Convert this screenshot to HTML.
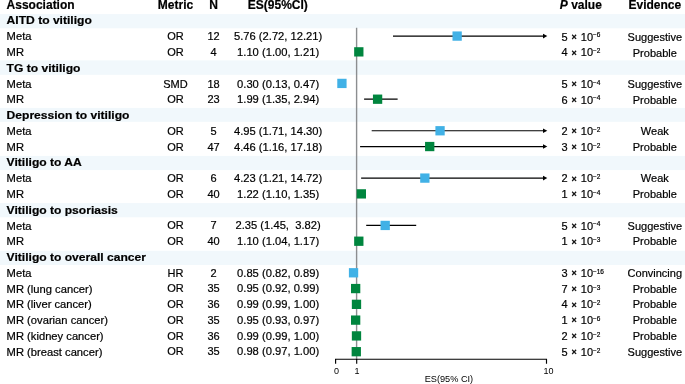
<!DOCTYPE html>
<html lang="en"><head><meta charset="utf-8"><title>Forest plot</title>
<style>html,body{margin:0;padding:0;background:#fff;overflow:hidden}svg{display:block}text{font-family:"Liberation Sans",Arial,Helvetica,sans-serif;fill:#000;stroke:#000;stroke-width:0.2px}</style></head><body>
<svg width="685" height="384" viewBox="0 0 685 384">
<rect width="685" height="384" fill="#fff"/>
<rect x="0" y="14.10" width="685" height="14.20" fill="#f1f8fc"/>
<rect x="0" y="60.40" width="685" height="14.40" fill="#f1f8fc"/>
<rect x="0" y="107.90" width="685" height="13.90" fill="#f1f8fc"/>
<rect x="0" y="155.90" width="685" height="14.20" fill="#f1f8fc"/>
<rect x="0" y="203.10" width="685" height="14.20" fill="#f1f8fc"/>
<rect x="0" y="250.80" width="685" height="14.20" fill="#f1f8fc"/>
<text transform="translate(6.60 8.65) scale(1 1)" font-size="12" font-weight="bold">Association</text>
<text transform="translate(175.50 8.65) scale(1 1)" font-size="12" text-anchor="middle" font-weight="bold">Metric</text>
<text transform="translate(213.50 8.65) scale(1 1)" font-size="12" text-anchor="middle" font-weight="bold">N</text>
<text transform="translate(277.80 8.65) scale(1 1)" font-size="12" text-anchor="middle" font-weight="bold">ES(95%CI)</text>
<text transform="translate(559.80 8.65) scale(1 1)" font-size="12" font-weight="bold"><tspan font-style="italic">P</tspan> value</text>
<text transform="translate(654.80 8.65) scale(1 1)" font-size="12" text-anchor="middle" font-weight="bold">Evidence</text>
<line x1="356.6" y1="27.8" x2="356.6" y2="359.2" stroke="#8c8e90" stroke-width="1.4"/>
<text transform="translate(6.60 24.20) scale(1.07 1)" font-size="11.3" font-weight="bold">AITD to vitiligo</text>
<text transform="translate(6.60 40.30) scale(1.077 1)" font-size="10.4">Meta</text>
<text transform="translate(175.50 40.46) scale(1 1)" font-size="11" text-anchor="middle">OR</text>
<text transform="translate(213.50 40.46) scale(1 1)" font-size="11" text-anchor="middle">12</text>
<text transform="translate(278.10 40.30) scale(1 1)" font-size="11.2" text-anchor="middle" xml:space="preserve">5.76 (2.72, 12.21)</text>
<text transform="translate(561.50 40.61) scale(1 1)" font-size="11">5 <tspan font-size="9" font-weight="bold" dx="0.9" dy="-0.8">×</tspan><tspan dx="0.9" dy="0.8"> 10</tspan><tspan font-size="6.5" dy="-3.2" dx="-0.1">−6</tspan></text>
<text transform="translate(654.80 40.79) scale(1 1)" font-size="11" text-anchor="middle">Suggestive</text>
<line x1="392.99" y1="36.08" x2="544.50" y2="36.08" stroke="#000" stroke-width="1.2"/>
<path d="M547.30 36.08 l-4.3 -2.3 v4.6 z" fill="#000"/>
<rect x="452.49" y="31.43" width="9.3" height="9.3" fill="#41b1e6"/>
<text transform="translate(6.60 56.07) scale(1.077 1)" font-size="10.4">MR</text>
<text transform="translate(175.50 56.21) scale(1 1)" font-size="11" text-anchor="middle">OR</text>
<text transform="translate(213.50 56.21) scale(1 1)" font-size="11" text-anchor="middle">4</text>
<text transform="translate(278.10 56.05) scale(1 1)" font-size="11.2" text-anchor="middle" xml:space="preserve">1.10 (1.00, 1.21)</text>
<text transform="translate(561.50 56.36) scale(1 1)" font-size="11">4 <tspan font-size="9" font-weight="bold" dx="0.9" dy="-0.8">×</tspan><tspan dx="0.9" dy="0.8"> 10</tspan><tspan font-size="6.5" dy="-3.2" dx="-0.1">−2</tspan></text>
<text transform="translate(654.80 56.53) scale(1 1)" font-size="11" text-anchor="middle">Probable</text>
<rect x="354.16" y="47.21" width="9.3" height="9.3" fill="#00853e"/>
<text transform="translate(6.60 71.60) scale(1.07 1)" font-size="11.3" font-weight="bold">TG to vitiligo</text>
<text transform="translate(6.60 87.62) scale(1.077 1)" font-size="10.4">Meta</text>
<text transform="translate(175.50 87.70) scale(1 1)" font-size="11" text-anchor="middle">SMD</text>
<text transform="translate(213.50 87.70) scale(1 1)" font-size="11" text-anchor="middle">18</text>
<text transform="translate(278.10 87.55) scale(1 1)" font-size="11.2" text-anchor="middle" xml:space="preserve">0.30 (0.13, 0.47)</text>
<text transform="translate(561.50 87.87) scale(1 1)" font-size="11">5 <tspan font-size="9" font-weight="bold" dx="0.9" dy="-0.8">×</tspan><tspan dx="0.9" dy="0.8"> 10</tspan><tspan font-size="6.5" dy="-3.2" dx="-0.1">−4</tspan></text>
<text transform="translate(654.80 88.01) scale(1 1)" font-size="11" text-anchor="middle">Suggestive</text>
<rect x="337.28" y="78.77" width="9.3" height="9.3" fill="#41b1e6"/>
<text transform="translate(6.60 103.39) scale(1.077 1)" font-size="10.4">MR</text>
<text transform="translate(175.50 103.44) scale(1 1)" font-size="11" text-anchor="middle">OR</text>
<text transform="translate(213.50 103.44) scale(1 1)" font-size="11" text-anchor="middle">23</text>
<text transform="translate(278.10 103.30) scale(1 1)" font-size="11.2" text-anchor="middle" xml:space="preserve">1.99 (1.35, 2.94)</text>
<text transform="translate(561.50 103.62) scale(1 1)" font-size="11">6 <tspan font-size="9" font-weight="bold" dx="0.9" dy="-0.8">×</tspan><tspan dx="0.9" dy="0.8"> 10</tspan><tspan font-size="6.5" dy="-3.2" dx="-0.1">−4</tspan></text>
<text transform="translate(654.80 103.75) scale(1 1)" font-size="11" text-anchor="middle">Probable</text>
<line x1="364.09" y1="99.20" x2="397.63" y2="99.20" stroke="#000" stroke-width="1.2"/>
<rect x="372.94" y="94.55" width="9.3" height="9.3" fill="#00853e"/>
<text transform="translate(6.60 119.00) scale(1.07 1)" font-size="11.3" font-weight="bold">Depression to vitiligo</text>
<text transform="translate(6.60 134.94) scale(1.077 1)" font-size="10.4">Meta</text>
<text transform="translate(175.50 134.94) scale(1 1)" font-size="11" text-anchor="middle">OR</text>
<text transform="translate(213.50 134.94) scale(1 1)" font-size="11" text-anchor="middle">5</text>
<text transform="translate(278.10 134.80) scale(1 1)" font-size="11.2" text-anchor="middle" xml:space="preserve">4.95 (1.71, 14.30)</text>
<text transform="translate(561.50 135.14) scale(1 1)" font-size="11">2 <tspan font-size="9" font-weight="bold" dx="0.9" dy="-0.8">×</tspan><tspan dx="0.9" dy="0.8"> 10</tspan><tspan font-size="6.5" dy="-3.2" dx="-0.1">−2</tspan></text>
<text transform="translate(654.80 135.23) scale(1 1)" font-size="11" text-anchor="middle">Weak</text>
<line x1="371.68" y1="130.76" x2="544.50" y2="130.76" stroke="#000" stroke-width="1.2"/>
<path d="M547.30 130.76 l-4.3 -2.3 v4.6 z" fill="#000"/>
<rect x="435.40" y="126.11" width="9.3" height="9.3" fill="#41b1e6"/>
<text transform="translate(6.60 150.72) scale(1.077 1)" font-size="10.4">MR</text>
<text transform="translate(175.50 150.68) scale(1 1)" font-size="11" text-anchor="middle">OR</text>
<text transform="translate(213.50 150.68) scale(1 1)" font-size="11" text-anchor="middle">47</text>
<text transform="translate(278.10 150.55) scale(1 1)" font-size="11.2" text-anchor="middle" xml:space="preserve">4.46 (1.16, 17.18)</text>
<text transform="translate(561.50 150.89) scale(1 1)" font-size="11">3 <tspan font-size="9" font-weight="bold" dx="0.9" dy="-0.8">×</tspan><tspan dx="0.9" dy="0.8"> 10</tspan><tspan font-size="6.5" dy="-3.2" dx="-0.1">−2</tspan></text>
<text transform="translate(654.80 150.97) scale(1 1)" font-size="11" text-anchor="middle">Probable</text>
<line x1="360.08" y1="146.54" x2="544.50" y2="146.54" stroke="#000" stroke-width="1.2"/>
<path d="M547.30 146.54 l-4.3 -2.3 v4.6 z" fill="#000"/>
<rect x="425.06" y="141.89" width="9.3" height="9.3" fill="#00853e"/>
<text transform="translate(6.60 166.40) scale(1.07 1)" font-size="11.3" font-weight="bold">Vitiligo to AA</text>
<text transform="translate(6.60 182.27) scale(1.077 1)" font-size="10.4">Meta</text>
<text transform="translate(175.50 182.17) scale(1 1)" font-size="11" text-anchor="middle">OR</text>
<text transform="translate(213.50 182.17) scale(1 1)" font-size="11" text-anchor="middle">6</text>
<text transform="translate(278.10 182.05) scale(1 1)" font-size="11.2" text-anchor="middle" xml:space="preserve">4.23 (1.21, 14.72)</text>
<text transform="translate(561.50 182.40) scale(1 1)" font-size="11">2 <tspan font-size="9" font-weight="bold" dx="0.9" dy="-0.8">×</tspan><tspan dx="0.9" dy="0.8"> 10</tspan><tspan font-size="6.5" dy="-3.2" dx="-0.1">−2</tspan></text>
<text transform="translate(654.80 182.45) scale(1 1)" font-size="11" text-anchor="middle">Weak</text>
<line x1="361.13" y1="178.10" x2="544.50" y2="178.10" stroke="#000" stroke-width="1.2"/>
<path d="M547.30 178.10 l-4.3 -2.3 v4.6 z" fill="#000"/>
<rect x="420.20" y="173.45" width="9.3" height="9.3" fill="#41b1e6"/>
<text transform="translate(6.60 198.05) scale(1.077 1)" font-size="10.4">MR</text>
<text transform="translate(175.50 197.91) scale(1 1)" font-size="11" text-anchor="middle">OR</text>
<text transform="translate(213.50 197.91) scale(1 1)" font-size="11" text-anchor="middle">40</text>
<text transform="translate(278.10 197.80) scale(1 1)" font-size="11.2" text-anchor="middle" xml:space="preserve">1.22 (1.10, 1.35)</text>
<text transform="translate(561.50 198.16) scale(1 1)" font-size="11">1 <tspan font-size="9" font-weight="bold" dx="0.9" dy="-0.8">×</tspan><tspan dx="0.9" dy="0.8"> 10</tspan><tspan font-size="6.5" dy="-3.2" dx="-0.1">−4</tspan></text>
<text transform="translate(654.80 198.19) scale(1 1)" font-size="11" text-anchor="middle">Probable</text>
<rect x="356.69" y="189.23" width="9.3" height="9.3" fill="#00853e"/>
<text transform="translate(6.60 213.80) scale(1.07 1)" font-size="11.3" font-weight="bold">Vitiligo to psoriasis</text>
<text transform="translate(6.60 229.60) scale(1.077 1)" font-size="10.4">Meta</text>
<text transform="translate(175.50 229.41) scale(1 1)" font-size="11" text-anchor="middle">OR</text>
<text transform="translate(213.50 229.41) scale(1 1)" font-size="11" text-anchor="middle">7</text>
<text transform="translate(278.10 229.30) scale(1 1)" font-size="11.2" text-anchor="middle" xml:space="preserve">2.35 (1.45,  3.82)</text>
<text transform="translate(561.50 229.66) scale(1 1)" font-size="11">5 <tspan font-size="9" font-weight="bold" dx="0.9" dy="-0.8">×</tspan><tspan dx="0.9" dy="0.8"> 10</tspan><tspan font-size="6.5" dy="-3.2" dx="-0.1">−4</tspan></text>
<text transform="translate(654.80 229.67) scale(1 1)" font-size="11" text-anchor="middle">Suggestive</text>
<line x1="366.20" y1="225.44" x2="416.20" y2="225.44" stroke="#000" stroke-width="1.2"/>
<rect x="380.54" y="220.79" width="9.3" height="9.3" fill="#41b1e6"/>
<text transform="translate(6.60 245.37) scale(1.077 1)" font-size="10.4">MR</text>
<text transform="translate(175.50 245.15) scale(1 1)" font-size="11" text-anchor="middle">OR</text>
<text transform="translate(213.50 245.15) scale(1 1)" font-size="11" text-anchor="middle">40</text>
<text transform="translate(278.10 245.05) scale(1 1)" font-size="11.2" text-anchor="middle" xml:space="preserve">1.10 (1.04, 1.17)</text>
<text transform="translate(561.50 245.42) scale(1 1)" font-size="11">1 <tspan font-size="9" font-weight="bold" dx="0.9" dy="-0.8">×</tspan><tspan dx="0.9" dy="0.8"> 10</tspan><tspan font-size="6.5" dy="-3.2" dx="-0.1">−3</tspan></text>
<text transform="translate(654.80 245.41) scale(1 1)" font-size="11" text-anchor="middle">Probable</text>
<rect x="354.16" y="236.57" width="9.3" height="9.3" fill="#00853e"/>
<text transform="translate(6.60 261.20) scale(1.07 1)" font-size="11.3" font-weight="bold">Vitiligo to overall cancer</text>
<text transform="translate(6.60 276.92) scale(1.077 1)" font-size="10.4">Meta</text>
<text transform="translate(175.50 276.64) scale(1 1)" font-size="11" text-anchor="middle">HR</text>
<text transform="translate(213.50 276.64) scale(1 1)" font-size="11" text-anchor="middle">2</text>
<text transform="translate(278.10 276.55) scale(1 1)" font-size="11.2" text-anchor="middle" xml:space="preserve">0.85 (0.82, 0.89)</text>
<text transform="translate(561.50 276.93) scale(1 1)" font-size="11">3 <tspan font-size="9" font-weight="bold" dx="0.9" dy="-0.8">×</tspan><tspan dx="0.9" dy="0.8"> 10</tspan><tspan font-size="6.5" dy="-3.2" dx="-0.1">−16</tspan></text>
<text transform="translate(654.80 276.89) scale(1 1)" font-size="11" text-anchor="middle">Convincing</text>
<rect x="348.89" y="268.13" width="9.3" height="9.3" fill="#41b1e6"/>
<text transform="translate(6.60 292.69) scale(1.077 1)" font-size="10.4">MR (lung cancer)</text>
<text transform="translate(175.50 292.38) scale(1 1)" font-size="11" text-anchor="middle">OR</text>
<text transform="translate(213.50 292.38) scale(1 1)" font-size="11" text-anchor="middle">35</text>
<text transform="translate(278.10 292.30) scale(1 1)" font-size="11.2" text-anchor="middle" xml:space="preserve">0.95 (0.92, 0.99)</text>
<text transform="translate(561.50 292.69) scale(1 1)" font-size="11">7 <tspan font-size="9" font-weight="bold" dx="0.9" dy="-0.8">×</tspan><tspan dx="0.9" dy="0.8"> 10</tspan><tspan font-size="6.5" dy="-3.2" dx="-0.1">−3</tspan></text>
<text transform="translate(654.80 292.63) scale(1 1)" font-size="11" text-anchor="middle">Probable</text>
<rect x="351.00" y="283.91" width="9.3" height="9.3" fill="#00853e"/>
<text transform="translate(6.60 308.47) scale(1.077 1)" font-size="10.4">MR (liver cancer)</text>
<text transform="translate(175.50 308.13) scale(1 1)" font-size="11" text-anchor="middle">OR</text>
<text transform="translate(213.50 308.13) scale(1 1)" font-size="11" text-anchor="middle">36</text>
<text transform="translate(278.10 308.05) scale(1 1)" font-size="11.2" text-anchor="middle" xml:space="preserve">0.99 (0.99, 1.00)</text>
<text transform="translate(561.50 308.44) scale(1 1)" font-size="11">4 <tspan font-size="9" font-weight="bold" dx="0.9" dy="-0.8">×</tspan><tspan dx="0.9" dy="0.8"> 10</tspan><tspan font-size="6.5" dy="-3.2" dx="-0.1">−2</tspan></text>
<text transform="translate(654.80 308.37) scale(1 1)" font-size="11" text-anchor="middle">Probable</text>
<rect x="351.84" y="299.69" width="9.3" height="9.3" fill="#00853e"/>
<text transform="translate(6.60 324.25) scale(1.077 1)" font-size="10.4">MR (ovarian cancer)</text>
<text transform="translate(175.50 323.88) scale(1 1)" font-size="11" text-anchor="middle">OR</text>
<text transform="translate(213.50 323.88) scale(1 1)" font-size="11" text-anchor="middle">35</text>
<text transform="translate(278.10 323.80) scale(1 1)" font-size="11.2" text-anchor="middle" xml:space="preserve">0.95 (0.93, 0.97)</text>
<text transform="translate(561.50 324.20) scale(1 1)" font-size="11">1 <tspan font-size="9" font-weight="bold" dx="0.9" dy="-0.8">×</tspan><tspan dx="0.9" dy="0.8"> 10</tspan><tspan font-size="6.5" dy="-3.2" dx="-0.1">−6</tspan></text>
<text transform="translate(654.80 324.11) scale(1 1)" font-size="11" text-anchor="middle">Probable</text>
<rect x="351.00" y="315.47" width="9.3" height="9.3" fill="#00853e"/>
<text transform="translate(6.60 340.02) scale(1.077 1)" font-size="10.4">MR (kidney cancer)</text>
<text transform="translate(175.50 339.62) scale(1 1)" font-size="11" text-anchor="middle">OR</text>
<text transform="translate(213.50 339.62) scale(1 1)" font-size="11" text-anchor="middle">36</text>
<text transform="translate(278.10 339.55) scale(1 1)" font-size="11.2" text-anchor="middle" xml:space="preserve">0.99 (0.99, 1.00)</text>
<text transform="translate(561.50 339.95) scale(1 1)" font-size="11">2 <tspan font-size="9" font-weight="bold" dx="0.9" dy="-0.8">×</tspan><tspan dx="0.9" dy="0.8"> 10</tspan><tspan font-size="6.5" dy="-3.2" dx="-0.1">−2</tspan></text>
<text transform="translate(654.80 339.85) scale(1 1)" font-size="11" text-anchor="middle">Probable</text>
<rect x="351.84" y="331.25" width="9.3" height="9.3" fill="#00853e"/>
<text transform="translate(6.60 355.80) scale(1.077 1)" font-size="10.4">MR (breast cancer)</text>
<text transform="translate(175.50 355.37) scale(1 1)" font-size="11" text-anchor="middle">OR</text>
<text transform="translate(213.50 355.37) scale(1 1)" font-size="11" text-anchor="middle">35</text>
<text transform="translate(278.10 355.30) scale(1 1)" font-size="11.2" text-anchor="middle" xml:space="preserve">0.98 (0.97, 1.00)</text>
<text transform="translate(561.50 355.71) scale(1 1)" font-size="11">5 <tspan font-size="9" font-weight="bold" dx="0.9" dy="-0.8">×</tspan><tspan dx="0.9" dy="0.8"> 10</tspan><tspan font-size="6.5" dy="-3.2" dx="-0.1">−2</tspan></text>
<text transform="translate(654.80 355.59) scale(1 1)" font-size="11" text-anchor="middle">Suggestive</text>
<rect x="351.63" y="347.03" width="9.3" height="9.3" fill="#00853e"/>
<path d="M335.60 363.70 V359.20 H546.50 V363.70 M356.70 359.20 v4.5" fill="none" stroke="#000" stroke-width="1.15"/>
<text x="336.4" y="373.9" font-size="9" style="stroke:none" text-anchor="middle">0</text>
<text x="357" y="373.9" font-size="9" style="stroke:none" text-anchor="middle">1</text>
<text x="548.5" y="373.9" font-size="9" style="stroke:none" text-anchor="middle">10</text>
<text x="448.9" y="381.5" font-size="9.2" style="stroke:none" text-anchor="middle">ES(95% CI)</text>
</svg></body></html>
